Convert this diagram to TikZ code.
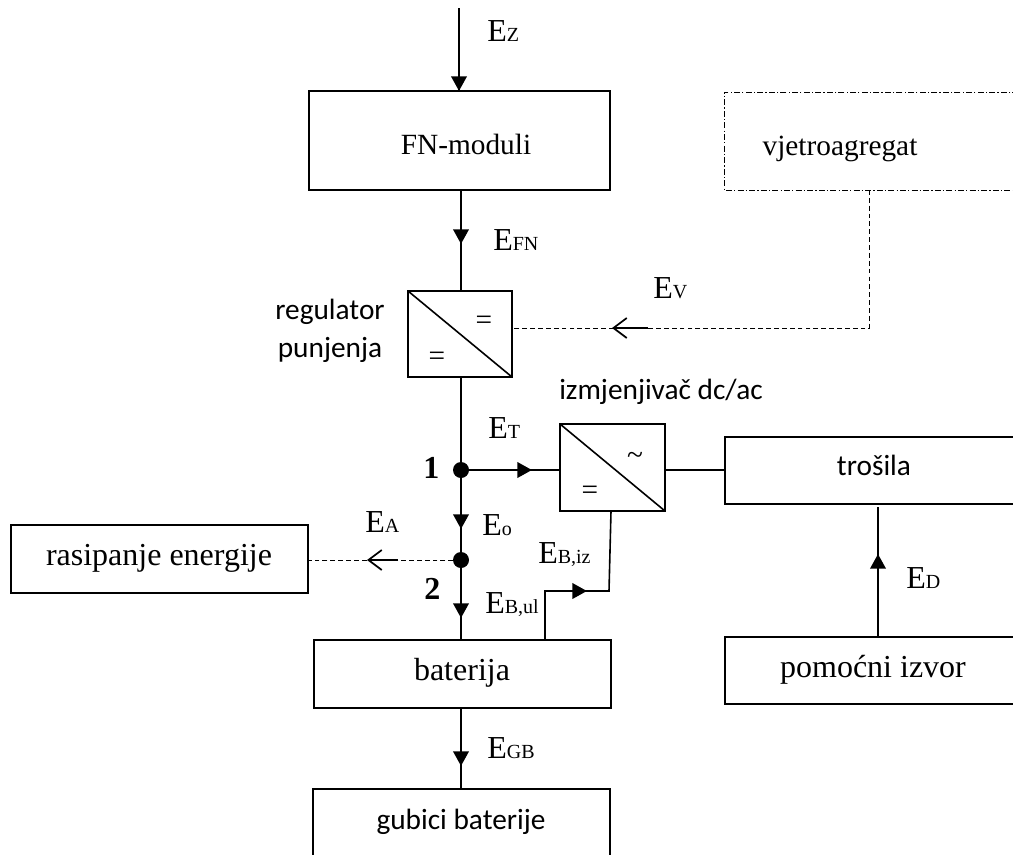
\documentclass[tikz,border=0pt]{standalone}
\usepackage{fontspec}
\setmainfont{Liberation Serif}
\newfontfamily\calfont{Carlito}
\usetikzlibrary{arrows.meta}
\tikzset{
 x=0.75pt,y=-0.75pt,
 blk/.style={draw,line width=1.3pt},
 wire/.style={line width=1.2pt},
 dsh/.style={line width=0.75pt,dash pattern=on 3.6pt off 2.3pt},
 dd/.style={line width=0.55pt,dash pattern=on 4.5pt off 1.6pt on 1pt off 1.6pt},
 tip/.style={-{Triangle[width=11.5pt,length=11pt]},line width=2pt},
 opn/.style={-{Straight Barb[width=15pt,length=10pt,line width=1.3pt]},line width=1.6pt},
 dotn/.style={circle,fill,inner sep=0pt,minimum size=12pt},
 lab/.style={inner sep=0pt,anchor=base west,font=\fontsize{24}{26}\selectfont},
 txt/.style={inner sep=0pt,anchor=base,font=\fontsize{22}{24}\selectfont},
 calt/.style={inner sep=0pt,anchor=base,font=\calfont\fontsize{22}{24}\selectfont},
 eqs/.style={inner sep=0pt,font=\fontsize{22}{24}\selectfont},
}
\newcommand{\Esub}[1]{E{\fontsize{15}{16}\selectfont #1}}
\begin{document}
\begin{tikzpicture}
\useasboundingbox (0,0) rectangle (1013,854);
\begin{scope}
\clip (0,0) rectangle (1013,854);
% coordinates
\coordinate (one) at (461,470);
\coordinate (two) at (461,560);
% boxes
\draw[blk] (309,91) rectangle (610,190);
\draw[blk] (408,291) rectangle (512,377);
\draw[wire] (408,291) -- (512,377);
\draw[blk] (560,424) rectangle (665,511);
\draw[wire] (560,424) -- (665,511);
\draw[blk] (1030,437) -- (725,437) -- (725,504) -- (1030,504);
\draw[blk] (1030,637) -- (725,637) -- (725,704) -- (1030,704);
\draw[blk] (314,640) rectangle (611,708);
\draw[blk] (313,870) -- (313,789) -- (610,789) -- (610,870);
\draw[blk] (11,525) rectangle (308,593);
\draw[dd] (1030,92) -- (724,92) -- (724,190) -- (1030,190);
% connectors
\draw[wire] (459,8) -- (459,91);
\draw[tip] (459,45) -- (459,91);
\draw[wire] (461,190) -- (461,291);
\draw[tip] (461,210) -- (461,244);
\draw[wire] (461,377) -- (461,640);
\draw[tip] (461,470) -- (461,529);
\draw[tip] (461,585) -- (461,618);
\draw[wire] (one) -- (560,470);
\draw[tip] (490,470) -- (532,470);
\draw[wire] (665,470) -- (725,470);
\draw[wire] (611,511) -- (609,591) -- (545,591) -- (545,640);
\draw[tip] (560,591) -- (587,591);
\draw[wire] (461,708) -- (461,789);
\draw[tip] (461,725) -- (461,766);
\draw[wire] (878,507) -- (878,637);
\draw[tip] (878,598) -- (878,554);
\draw[dsh] (869,190) -- (869,328) -- (512,328);
\draw[opn] (648,328) -- (612,328);
\draw[dsh] (461,560) -- (308,560);
\draw[opn] (398,560) -- (367,560);
\node[dotn] (n1) at (one) {};
\node[dotn] (n2) at (two) {};
% box text
\node[txt] (fnm) at (466,154) {FN-moduli};
\node[txt] (vj) at (840,155) {vjetroagregat};
\node[txt,font=\fontsize{24}{26}\selectfont] (ras) at (159,565) {rasipanje energije};
\node[txt,font=\fontsize{24}{26}\selectfont] (bat) at (462,680) {baterija};
\node[txt,font=\fontsize{24}{26}\selectfont] (pom) at (873,677) {pomoćni izvor};
\node[calt] (tro) at (874,475) {trošila};
\node[calt] (gub) at (461,829) {gubici baterije};
\node[calt] (r1) at (330,319) {regulator};
\node[calt] (r2) at (330,357) {punjenja};
\node[calt] (izm) at (661,399) {izmjenjivač dc/ac};
% converter symbols
\node[eqs] (e1) at (484,323) {=};
\node[eqs] (e2) at (437,359) {=};
\node[eqs] (e3) at (590,493) {=};
\node[eqs] (e4) at (635,458) {\symbol{126}};
% labels
\node[lab] (Ez) at (487,41) {\Esub{Z}};
\node[lab] (Efn) at (493,250) {\Esub{FN}};
\node[lab] (Ev) at (653,298) {\Esub{V}};
\node[lab] (Et) at (488,438) {\Esub{T}};
\node[lab] (Ea) at (365,532) {\Esub{A}};
\node[lab] (Eo) at (482,535) {\Esub{o}};
\node[lab] (Ebi) at (538,563) {\Esub{B,iz}};
\node[lab] (Ebu) at (485,613) {\Esub{B,ul}};
\node[lab] (Ed) at (906,588) {\Esub{D}};
\node[lab] (Egb) at (487,758) {\Esub{GB}};
\node[lab,font=\bfseries\fontsize{24}{26}\selectfont] (l1) at (423,478) {1};
\node[lab,font=\bfseries\fontsize{24}{26}\selectfont] (l2) at (424,599) {2};
\end{scope}
\end{tikzpicture}
\end{document}
